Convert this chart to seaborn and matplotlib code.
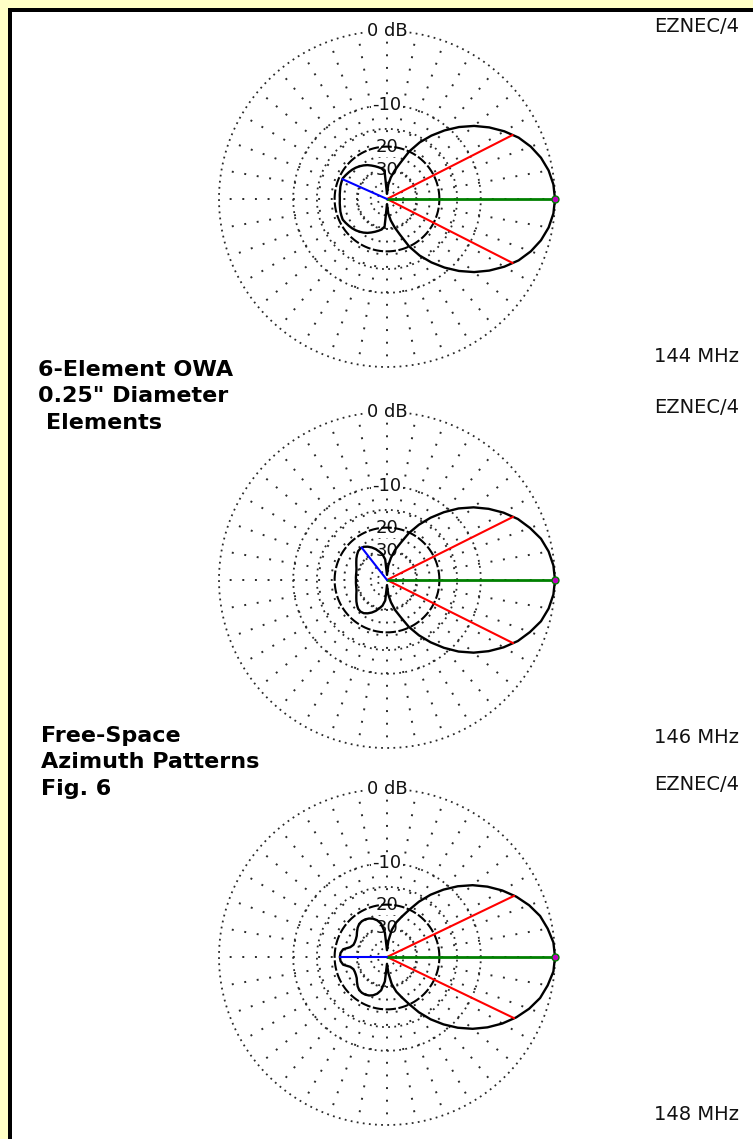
import numpy as np
import pandas as pd
import matplotlib
matplotlib.use("Agg")
import matplotlib.pyplot as plt
import seaborn as sns
from matplotlib.patches import Rectangle

# ---- pattern data: azimuth (deg) for the upper half; patterns are symmetric about boresight
half_angles = [0, 5, 10, 15, 20, 25, 30, 35, 40, 45, 50, 55, 60, 65, 70, 75, 80, 85, 90,
               95, 100, 105, 110, 115, 120, 125, 130, 135, 140, 145, 150, 155, 160, 165,
               170, 175, 180]

gain_144 = [0.0, -0.1, -0.4, -0.9, -1.6, -2.5, -3.7, -5.1, -6.7, -8.6, -10.8, -13.3, -16.2,
            -20.0, -25.5, -30.0, -35.0, -42.0, -60.0,
            -31.0, -29.0, -28.0, -27.0, -26.0, -25.0, -24.2, -23.5, -22.9, -22.4, -22.0,
            -21.6, -21.2, -21.3, -21.4, -21.6, -21.7, -21.8]

gain_146 = [0.0, -0.1, -0.4, -0.9, -1.7, -2.6, -3.8, -5.2, -6.8, -8.7, -11.0, -13.6, -16.6,
            -20.2, -25.0, -29.0, -34.5, -42.0, -60.0,
            -36.0, -32.0, -30.0, -28.0, -26.5, -25.3, -24.4, -24.1, -24.3, -25.0, -25.8,
            -26.7, -27.5, -28.2, -28.6, -28.8, -28.9, -29.0]

gain_148 = [0.0, -0.1, -0.5, -1.0, -1.8, -2.8, -4.0, -5.4, -7.0, -8.9, -11.1, -13.6, -16.6,
            -20.2, -23.5, -26.5, -31.0, -40.0, -55.0,
            -33.0, -27.5, -25.5, -24.3, -23.6, -23.2, -23.1, -23.3, -24.0, -25.0, -26.0,
            -26.5, -26.7, -26.6, -25.5, -22.8, -22.0, -21.8]

freq_labels = ["144 MHz", "146 MHz", "148 MHz"]
beam_half_width = [27.0, 26.6, 25.7]      # -3 dB beamwidth edges (deg)
beam_edge_db = [-3.0, -3.0, -3.0]
rear_peak_angle = [156.0, 128.0, 180.0]   # strongest lobe in the rear half
rear_peak_db = [-21.2, -24.1, -21.8]

ring_db_dense = [0, -10, -15, -30, -40, -50]
ring_label_db = [0, -10, -20, -30]
ring_labels = ["0 dB", "-10", "20", "30"]
spoke_angles = list(range(0, 360, 10))

title_lines = ["6-Element OWA", "0.25\" Diameter", "Elements"]
subtitle_lines = ["Free-Space", "Azimuth Patterns", "Fig. 6"]


def arrl(db):
    """ARRL log-periodic radius: 0.89 per 2 dB."""
    return 0.89 ** (-np.asarray(db, dtype=float) / 2.0)


sns.set_style("white")
plt.rcParams["font.family"] = ["DejaVu Sans"]

W, H = 753, 1139
fig = plt.figure(figsize=(W / 100, H / 100), dpi=100)
fig.patch.set_facecolor("#FFFFC6")

# frame: black rule inside the pale yellow margin, white page inside
fig.patches.append(Rectangle((8 / W, -0.01), 1.1, (H - 8) / H + 0.01,
                             transform=fig.transFigure, fc="black", ec="none", zorder=-2))
fig.patches.append(Rectangle((12 / W, -0.01), 1.1, (H - 12) / H + 0.01,
                             transform=fig.transFigure, fc="white", ec="none", zorder=-1))

R = 168
cx = 387
centers = [199, 580, 957]
gains = [gain_144, gain_146, gain_148]
grid_col = "#2a2a2a"

for k, cy in enumerate(centers):
    ax = fig.add_axes([(cx - R) / W, (H - cy - R) / H, 2 * R / W, 2 * R / H],
                      projection="polar")
    ax.set_facecolor("none")
    ax.set_ylim(0, 1)

    # spokes every 10 degrees
    r0 = arrl(-30)
    for a in spoke_angles:
        t = np.deg2rad(a)
        ax.plot([t, t], [r0, 1.0], color=grid_col, lw=1.4,
                linestyle=(0, (1, 5.5)), zorder=1, clip_on=False)

    # dotted level rings
    tt = np.linspace(0, 2 * np.pi, 721)
    for db in ring_db_dense:
        ax.plot(tt, np.full_like(tt, arrl(db)), color=grid_col, lw=1.3,
                linestyle=(0, (1, 2.4)), zorder=1, clip_on=False)
    # -20 dB ring
    ax.plot(tt, np.full_like(tt, arrl(-20)), color="black", lw=1.5,
            linestyle=(0, (5, 1.2)), zorder=3, clip_on=False)

    # ring labels
    for db, lab in zip(ring_label_db, ring_labels):
        ax.text(np.pi / 2, arrl(db), lab, ha="center", va="center", fontsize=13,
                color="#111111", zorder=2,
                bbox=dict(boxstyle="square,pad=0.08", fc="white", ec="none"))

    # full pattern (mirror the half pattern about boresight)
    g = gains[k]
    theta = half_angles + [360 - a for a in half_angles[-2::-1]]
    vals = g + g[-2::-1]
    df = pd.DataFrame({"theta": np.deg2rad(theta), "r": arrl(vals)})
    sns.lineplot(data=df, x="theta", y="r", ax=ax, sort=False, estimator=None,
                 color="black", lw=1.7, zorder=4)
    ax.lines[-1].set_clip_on(False)

    # -3 dB beamwidth edges
    for s in (1, -1):
        t = np.deg2rad(s * beam_half_width[k])
        ax.plot([t, t], [0, arrl(beam_edge_db[k])], color="red", lw=1.5,
                zorder=5, clip_on=False)
    # maximum gain direction
    ax.plot([0, 0], [0, 1.0], color="#008000", lw=2.0, zorder=5, clip_on=False)
    ax.plot([0], [1.0], marker="o", ms=5, mfc="#C000C0", mec="#008000",
            zorder=6, clip_on=False)
    # rear lobe peak
    tb = np.deg2rad(rear_peak_angle[k])
    ax.plot([tb, tb], [0, arrl(rear_peak_db[k])], color="blue", lw=1.5,
            zorder=5, clip_on=False)

    ax.set_ylim(0, 1)
    ax.set_xlabel("")
    ax.set_ylabel("")
    ax.set_axis_off()

    # program tag and frequency
    fig.text(654 / W, 1 - (cy - 167) / H, "EZNEC/4", ha="left", va="baseline",
             fontsize=14, color="#111111")
    fig.text(654 / W, 1 - (cy + 163) / H, freq_labels[k], ha="left", va="baseline",
             fontsize=14, color="#111111")

# captions
for i, line in enumerate(title_lines):
    x = 38 if i < 2 else 46
    fig.text(x / W, 1 - (376 + 26.5 * i) / H, line, ha="left", va="baseline",
             fontsize=16, fontweight="bold", color="black")
for i, line in enumerate(subtitle_lines):
    fig.text(41 / W, 1 - (742 + 26.5 * i) / H, line, ha="left", va="baseline",
             fontsize=16, fontweight="bold", color="black")

fig.savefig("out.png", dpi=100, facecolor=fig.get_facecolor())
